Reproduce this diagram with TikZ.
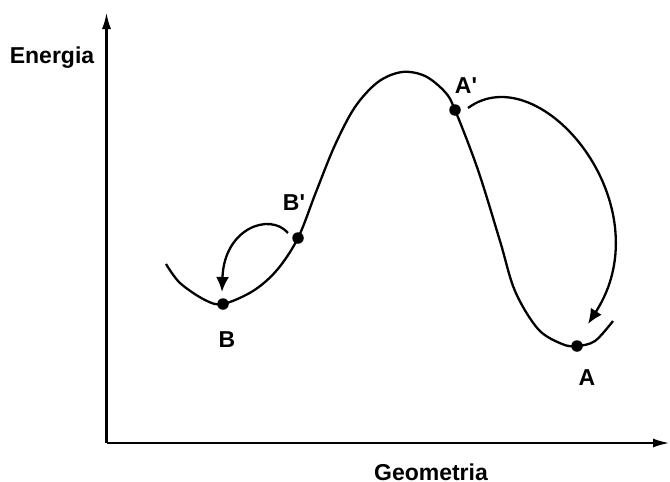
\documentclass[tikz,border=0pt]{standalone}
\usepackage{fontspec}
\setmainfont{Liberation Sans}
\usetikzlibrary{arrows.meta}
\begin{document}
\begin{tikzpicture}[x=1pt,y=-1pt,
  axis/.style={line width=2.6pt,-{Latex[length=17pt,width=9pt]}},
  curve/.style={line width=2.3pt,line join=round},
  jump/.style={line width=2.3pt,-{Latex[length=15pt,width=13pt]}},
  dot/.style={circle,fill=black,inner sep=0pt,minimum size=11.5pt},
  lbl/.style={font=\fontsize{23}{27}\selectfont\bfseries,inner sep=0pt,anchor=base}]
\useasboundingbox (0,0) rectangle (670,482);
% axes
\coordinate (O) at (106.5,443);
\coordinate (Ytop) at (106.5,12);
\coordinate (Xend) at (670,443);
\draw[axis] (O) -- (Ytop);
\draw[axis] (O) -- (Xend);
\node[lbl] (energia) at (52,63) {Energia};
\node[lbl] (geometria) at (431,480) {Geometria};
% energy curve
\draw[curve] plot[smooth,tension=0.55] coordinates {
  (166,264) (180,283) (205,300) (223,304) (253,291) (277,270) (298,238)
  (316,192) (335,145) (355,107) (378,82) (402,72) (425,76) (445,92)
  (455,110) (478,170) (500,241) (515,291) (538,329) (562,344) (577,346)
  (595,341) (613,321)};
% points
\node[dot] (B) at (223,304) {};
\node[dot] (Bp) at (298,238) {};
\node[dot] (Ap) at (455,110) {};
\node[dot] (A) at (577,346) {};
\node[lbl] (Blbl) at (227,347) {B};
\node[lbl] (Albl) at (587,385) {A};
\node[lbl] (Bplbl) at (294,210) {B\textquotesingle};
\node[lbl] (Aplbl) at (466,93) {A\textquotesingle};
% jumps
\coordinate (a1) at (468,108);
\coordinate (a2) at (588,324);
\draw[jump] (a1) .. controls (540,55) and (665,205) .. (a2);
\coordinate (b1) at (288,233);
\coordinate (b2) at (222,292);
\draw[jump] (b1) .. controls (270,212) and (224,228) .. (b2);
\end{tikzpicture}
\end{document}
